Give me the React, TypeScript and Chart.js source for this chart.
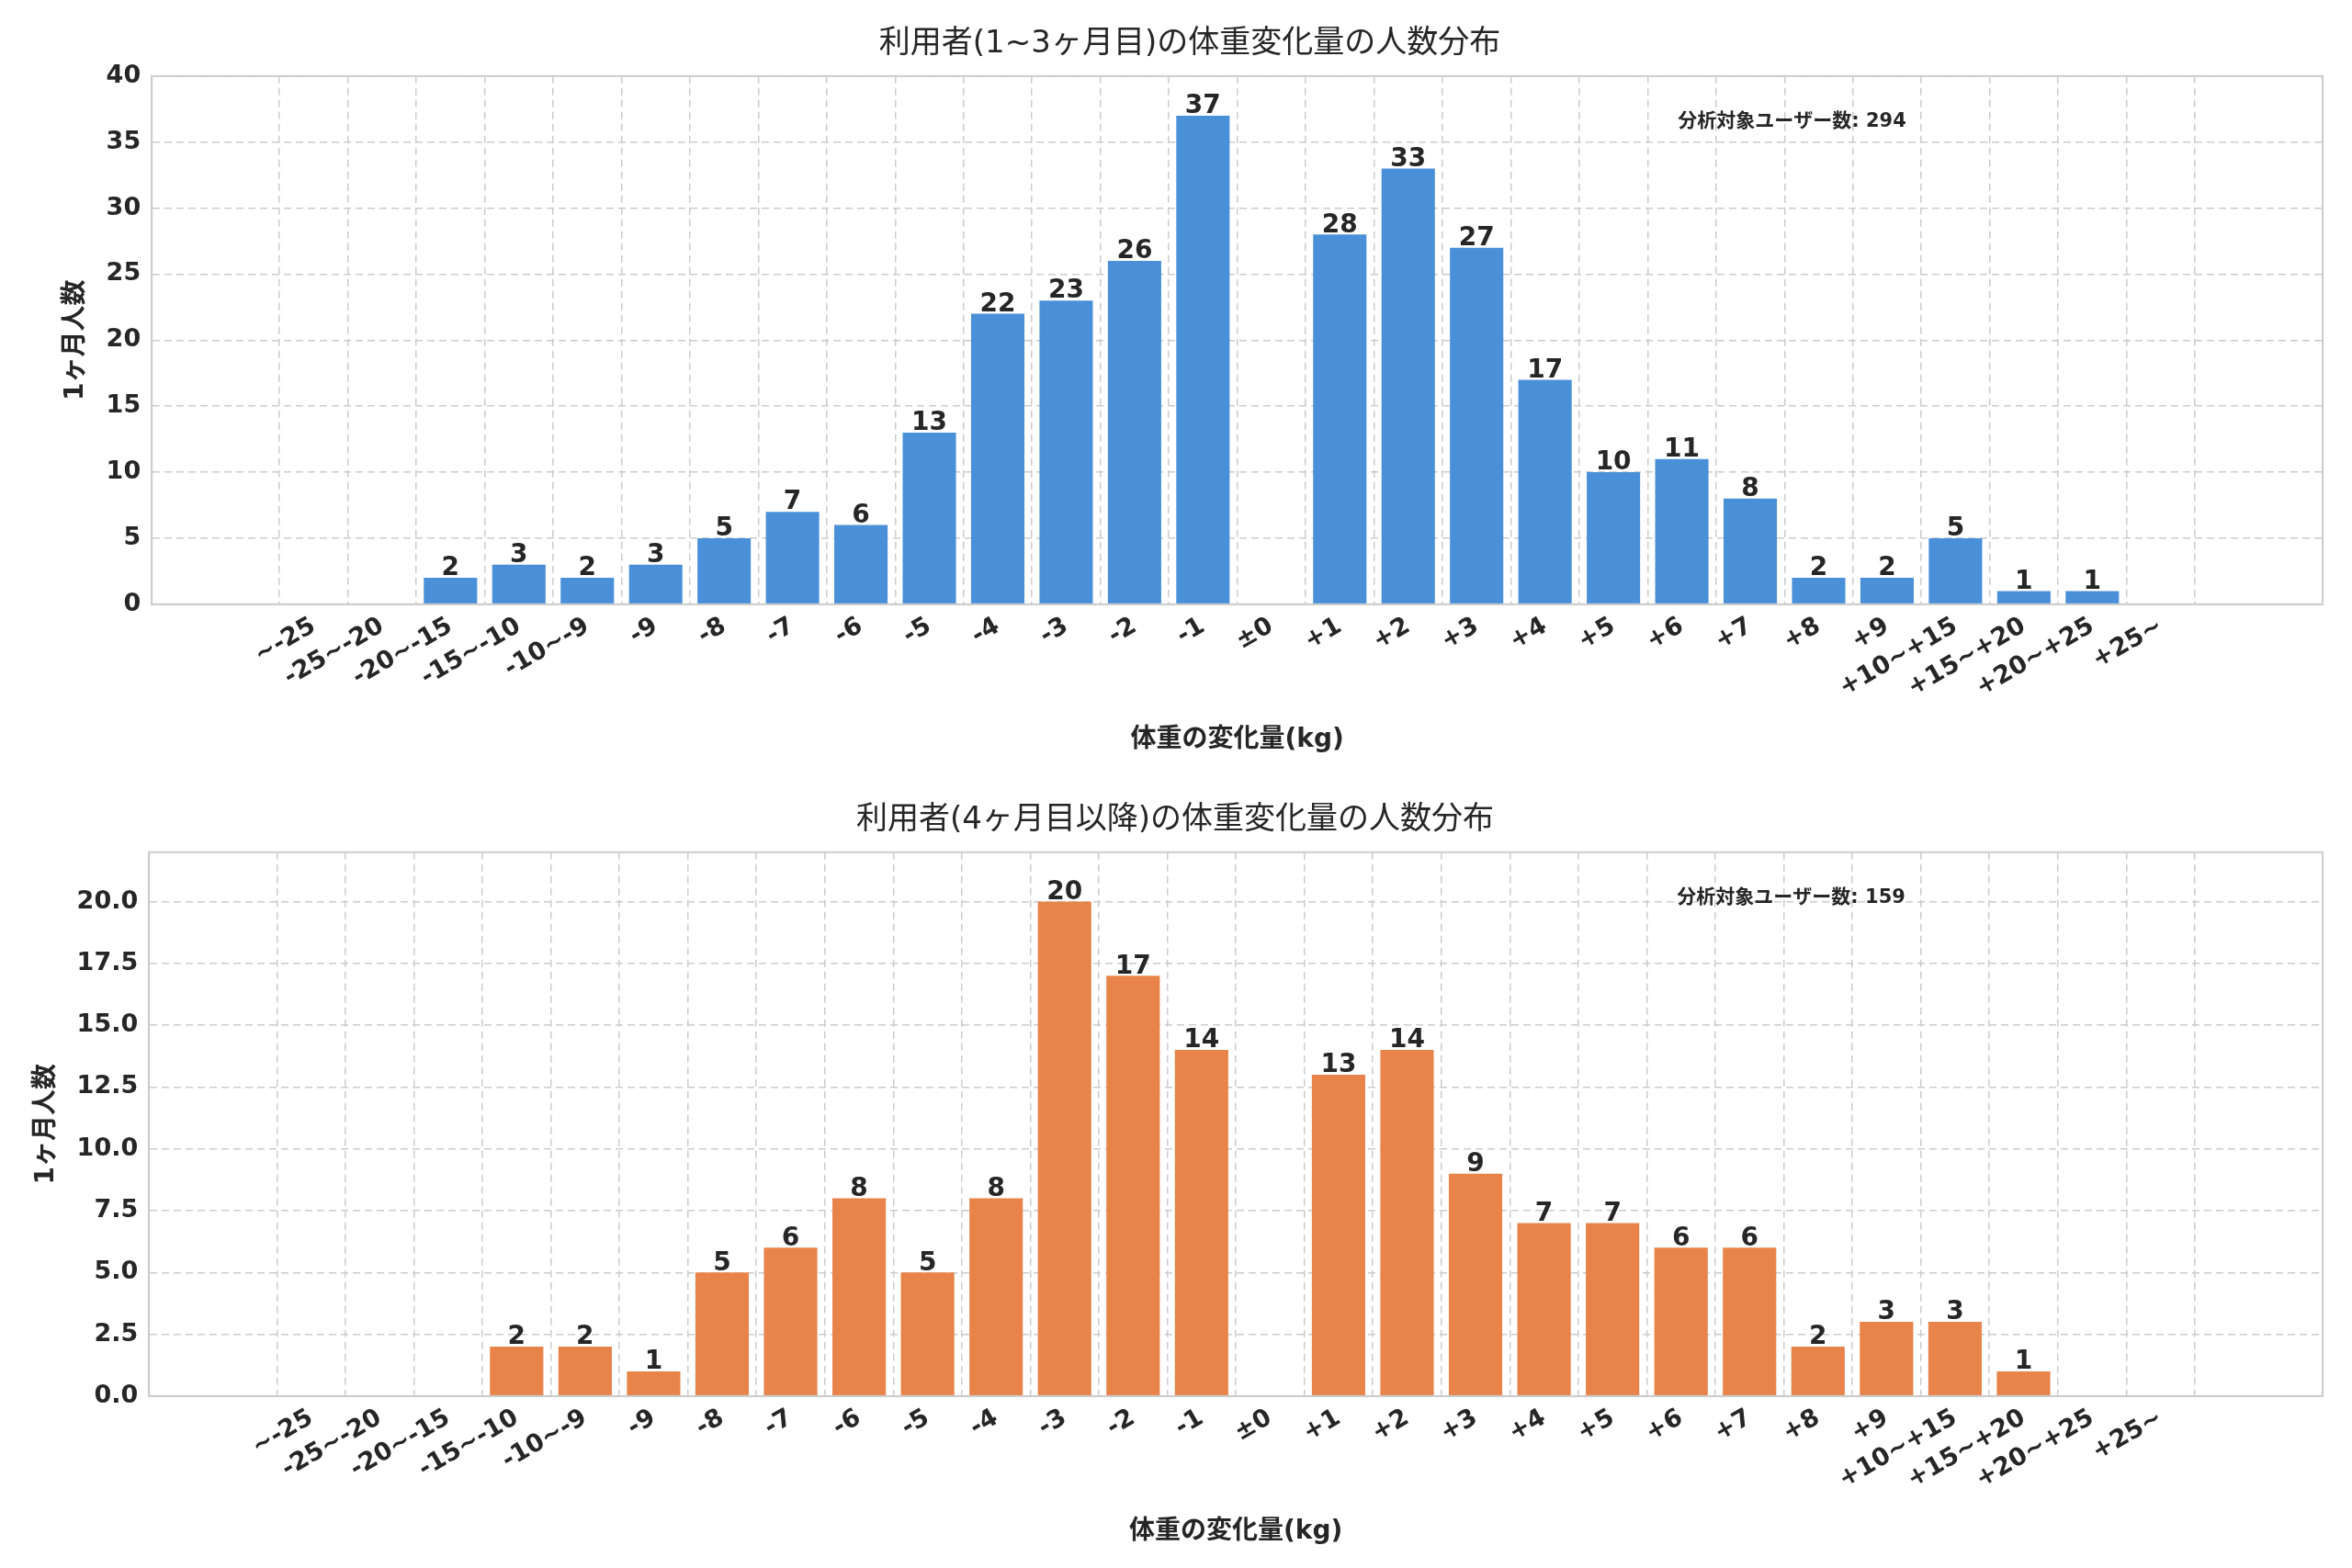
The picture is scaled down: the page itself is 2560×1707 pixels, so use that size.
import React, { useEffect, useRef } from "react";
import { Chart, registerables } from "chart.js";
Chart.register(...registerables);

const categories = ["~-25","-25~-20","-20~-15","-15~-10","-10~-9","-9","-8","-7","-6","-5","-4","-3","-2","-1","±0","+1","+2","+3","+4","+5","+6","+7","+8","+9","+10~+15","+15~+20","+20~+25","+25~"];
const countsEarly = [0,0,2,3,2,3,5,7,6,13,22,23,26,37,0,28,33,27,17,10,11,8,2,2,5,1,1,0];
const countsLate = [0,0,0,2,2,1,5,6,8,5,8,20,17,14,0,13,14,9,7,7,6,6,2,3,3,1,0,0];
const titleEarly = "利用者(1~3ヶ月目)の体重変化量の人数分布";
const titleLate = "利用者(4ヶ月目以降)の体重変化量の人数分布";
const noteEarly = "分析対象ユーザー数: 294";
const noteLate = "分析対象ユーザー数: 159";
const xTitle = "体重の変化量(kg)";
const yTitle = "1ヶ月人数";

const FONT = "'DejaVu Sans', 'Noto Sans CJK JP', sans-serif";

function makeChart(canvas: HTMLCanvasElement, values: number[], color: string, title: string, note: string, yMax: number, step: number, decimals: number, padLeft: number) {
  const labelPlugin = {
    id: "labels" + title,
    afterDatasetsDraw(chart: any) {
      const ctx = chart.ctx;
      const meta = chart.getDatasetMeta(0);
      ctx.save();
      ctx.fillStyle = "#262626";
      ctx.font = `bold 28px ${FONT}`;
      ctx.textAlign = "center";
      ctx.textBaseline = "bottom";
      meta.data.forEach((el: any, i: number) => {
        const v = values[i];
        if (v > 0) ctx.fillText(String(v), el.x, el.y + 4);
      });
      const a = chart.chartArea;
      ctx.font = `bold 21px ${FONT}`;
      ctx.textAlign = "left";
      ctx.textBaseline = "middle";
      ctx.fillText(note, a.left + (a.right - a.left) * 0.703, a.top + 50);
      ctx.restore();
    },
  };
  return new Chart(canvas, {
    type: "bar",
    data: {
      datasets: [{
        data: values.map((v, i) => ({ x: i, y: v })),
        backgroundColor: color,
        barPercentage: 0.78,
        categoryPercentage: 1,
      }],
    },
    options: {
      animation: false,
      responsive: false,
      maintainAspectRatio: false,
      layout: { padding: { right: 32, top: 14, left: padLeft, bottom: 18 } },
      plugins: {
        legend: { display: false },
        tooltip: { enabled: false },
        title: { display: true, text: title, color: "#262626", font: { family: FONT, size: 34, weight: "normal" }, padding: { top: 14, bottom: 14 } },
      },
      scales: {
        x: {
          type: "linear",
          min: -1.8,
          max: 28.8,
          afterBuildTicks: (axis: any) => { axis.ticks = categories.map((_, i) => ({ value: i })); },
          ticks: {
            callback: (v: any) => categories[v] ?? "",
            maxRotation: 30, minRotation: 30,
            color: "#262626",
            font: { family: FONT, size: 27, weight: "bold" },
            autoSkip: false,
            padding: 8,
          },
          grid: { color: "#cccccc", lineWidth: 1.5, drawTicks: false },
          border: { display: true, color: "#cccccc", width: 2, dash: [8, 5] },
          title: { display: true, text: xTitle, color: "#262626", font: { family: FONT, size: 28, weight: "bold" }, padding: { top: 16 } },
        },
        y: {
          min: 0,
          max: yMax,
          afterBuildTicks: (axis: any) => { const t = []; for (let v = 0; v <= yMax + 1e-9; v += step) if (v < yMax || yMax % step === 0) t.push({ value: v }); axis.ticks = t.filter((x: any) => x.value <= (yMax % step === 0 ? yMax : yMax - 0.01)); },
          ticks: {
            callback: (v: any) => Number(v).toFixed(decimals),
            color: "#262626",
            font: { family: FONT, size: 27, weight: "bold" },
            padding: 12,
          },
          grid: { color: "#cccccc", lineWidth: 1.5, drawTicks: false },
          border: { display: true, color: "#cccccc", width: 2, dash: [8, 5] },
          title: { display: true, text: yTitle, color: "#262626", font: { family: FONT, size: 28, weight: "bold" } },
        },
      },
    } as any,
    plugins: [labelPlugin, {
      id: "frame" + title,
      afterDraw(chart: any) {
        const a = chart.chartArea; const ctx = chart.ctx;
        ctx.save(); ctx.strokeStyle = "#cccccc"; ctx.lineWidth = 2; ctx.setLineDash([]);
        ctx.strokeRect(a.left, a.top, a.right - a.left, a.bottom - a.top); ctx.restore();
      },
    }],
  });
}

export default function App() {
  const r1 = useRef<HTMLCanvasElement>(null);
  const r2 = useRef<HTMLCanvasElement>(null);
  useEffect(() => {
    const c1 = makeChart(r1.current!, countsEarly, "#4A90D9", titleEarly, noteEarly, 40, 5, 0, 62);
    const c2 = makeChart(r2.current!, countsLate, "#E8844A", titleLate, noteLate, 22, 2.5, 1, 30);
    return () => { c1.destroy(); c2.destroy(); };
  }, []);
  return (
    <div style={{ position: "fixed", left: 0, top: 0, width: 2560, height: 1707, background: "#fff" }}>
      <canvas ref={r1} width={2560} height={845} style={{ display: "block", width: 2560, height: 845 }} />
      <canvas ref={r2} width={2560} height={862} style={{ display: "block", width: 2560, height: 862 }} />
    </div>
  );
}
